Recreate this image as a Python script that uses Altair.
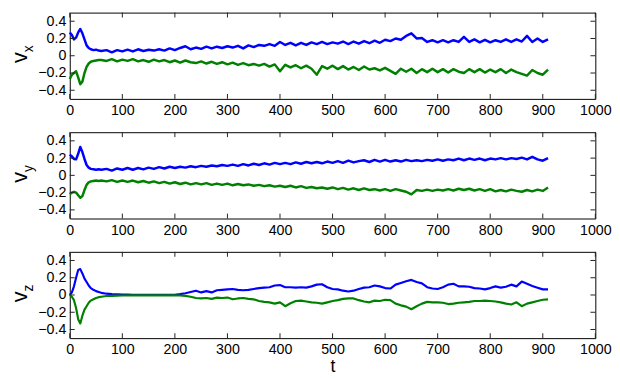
import altair as alt
import pandas as pd

FONT = "Liberation Sans"
W, H = 536, 88

# sample times
t = [0, 4, 8, 12, 16, 20, 24, 28, 32, 36, 40, 45, 50, 55, 60] + list(range(70, 911, 10))

# ---- panel 1 : v_x ----
vx_blue = [0.27, 0.24, 0.19, 0.21, 0.27, 0.31, 0.26, 0.19, 0.12, 0.09, 0.075, 0.065, 0.07, 0.06, 0.055,
           0.065, 0.04, 0.065, 0.05, 0.07, 0.05, 0.075, 0.055, 0.07, 0.06,
           0.075, 0.06, 0.085, 0.065, 0.09, 0.11, 0.075, 0.095, 0.08, 0.105,
           0.085, 0.105, 0.09, 0.11, 0.095, 0.115, 0.085, 0.12, 0.1, 0.125,
           0.115, 0.135, 0.115, 0.16, 0.125, 0.15, 0.12, 0.15, 0.125, 0.155,
           0.135, 0.16, 0.135, 0.155, 0.14, 0.165, 0.135, 0.165, 0.14, 0.17,
           0.145, 0.175, 0.15, 0.185, 0.17, 0.2, 0.185, 0.23, 0.26, 0.2,
           0.205, 0.16, 0.18, 0.155, 0.18, 0.155, 0.18, 0.16, 0.22, 0.16,
           0.19, 0.155, 0.185, 0.155, 0.18, 0.16, 0.19, 0.16, 0.19, 0.165,
           0.23, 0.16, 0.2, 0.16, 0.19]
vx_green = [-0.27, -0.22, -0.2, -0.18, -0.25, -0.33, -0.3, -0.2, -0.13, -0.09, -0.07, -0.06, -0.055, -0.05, -0.05,
            -0.06, -0.04, -0.065, -0.045, -0.06, -0.04, -0.065, -0.05, -0.07, -0.045,
            -0.065, -0.05, -0.075, -0.055, -0.08, -0.055, -0.075, -0.085, -0.065, -0.09,
            -0.07, -0.095, -0.075, -0.1, -0.08, -0.105, -0.085, -0.11, -0.095, -0.115,
            -0.095, -0.125, -0.1, -0.18, -0.105, -0.135, -0.11, -0.145, -0.115, -0.15,
            -0.22, -0.12, -0.15, -0.115, -0.155, -0.12, -0.16, -0.13, -0.165, -0.125,
            -0.16, -0.145, -0.17, -0.14, -0.175, -0.21, -0.15, -0.185, -0.15, -0.2,
            -0.155, -0.19, -0.15, -0.19, -0.155, -0.195, -0.155, -0.185, -0.2, -0.155,
            -0.19, -0.155, -0.195, -0.16, -0.19, -0.155, -0.2, -0.16, -0.19, -0.21,
            -0.23, -0.165, -0.2, -0.22, -0.16]

# ---- panel 2 : v_y ----
vy_blue = [0.24, 0.22, 0.19, 0.185, 0.25, 0.33, 0.27, 0.19, 0.12, 0.09, 0.075, 0.07, 0.065, 0.07, 0.065,
           0.075, 0.055, 0.08, 0.065, 0.085, 0.065, 0.085, 0.07, 0.09, 0.075,
           0.095, 0.08, 0.1, 0.085, 0.1, 0.09, 0.105, 0.095, 0.11, 0.1,
           0.115, 0.105, 0.12, 0.11, 0.125, 0.11, 0.13, 0.115, 0.135, 0.12,
           0.14, 0.125, 0.145, 0.13, 0.145, 0.13, 0.15, 0.135, 0.155, 0.14,
           0.155, 0.14, 0.16, 0.145, 0.165, 0.145, 0.17, 0.15, 0.165, 0.175,
           0.155, 0.18, 0.16, 0.18, 0.16, 0.175, 0.16, 0.18, 0.165, 0.175,
           0.165, 0.18, 0.17, 0.185, 0.17, 0.185, 0.175, 0.195, 0.175, 0.195,
           0.18, 0.195, 0.175, 0.195, 0.185, 0.2, 0.185, 0.2, 0.19, 0.205,
           0.185, 0.215, 0.185, 0.17, 0.2]
vy_green = [-0.22, -0.2, -0.19, -0.2, -0.23, -0.26, -0.24, -0.17, -0.11, -0.08, -0.07, -0.065, -0.06, -0.065, -0.06,
            -0.07, -0.055, -0.075, -0.06, -0.075, -0.06, -0.08, -0.065, -0.085, -0.07,
            -0.09, -0.075, -0.095, -0.08, -0.1, -0.085, -0.105, -0.09, -0.105, -0.09,
            -0.11, -0.095, -0.11, -0.095, -0.115, -0.1, -0.115, -0.105, -0.12, -0.11,
            -0.125, -0.115, -0.13, -0.12, -0.135, -0.12, -0.14, -0.125, -0.145, -0.135,
            -0.15, -0.14, -0.155, -0.14, -0.16, -0.145, -0.165, -0.15, -0.17, -0.15,
            -0.17, -0.16, -0.175, -0.16, -0.18, -0.16, -0.175, -0.19, -0.22, -0.17,
            -0.18, -0.165, -0.18, -0.165, -0.175, -0.16, -0.175, -0.155, -0.17, -0.155,
            -0.175, -0.16, -0.18, -0.16, -0.185, -0.17, -0.185, -0.165, -0.18, -0.19,
            -0.17, -0.185, -0.165, -0.18, -0.14]

# ---- panel 3 : v_z ----
vz_blue = [0.0, 0.03, 0.1, 0.2, 0.29, 0.3, 0.25, 0.19, 0.15, 0.11, 0.08, 0.06, 0.045, 0.035, 0.025,
           0.015, 0.01, 0.008, 0.005, 0.004, 0.003, 0.003, 0.002, 0.002, 0.002,
           0.002, 0.002, 0.003, 0.003, 0.01, 0.02, 0.035, 0.05, 0.03, 0.045,
           0.03, 0.055, 0.06, 0.065, 0.07, 0.06, 0.055, 0.06, 0.07, 0.08,
           0.085, 0.09, 0.11, 0.115, 0.09, 0.09, 0.085, 0.09, 0.085, 0.1,
           0.12, 0.125, 0.09, 0.07, 0.065, 0.05, 0.04, 0.05, 0.07, 0.085,
           0.09, 0.11, 0.1, 0.08, 0.075, 0.12, 0.14, 0.16, 0.175, 0.15,
           0.135, 0.09, 0.075, 0.07, 0.09, 0.12, 0.13, 0.1, 0.1, 0.095,
           0.08, 0.075, 0.065, 0.08, 0.1, 0.085, 0.095, 0.12, 0.1, 0.155,
           0.13, 0.105, 0.085, 0.065, 0.065]
vz_green = [0.0, -0.02, -0.06, -0.15, -0.28, -0.33, -0.24, -0.17, -0.13, -0.09, -0.065, -0.05, -0.035, -0.025, -0.02,
            -0.012, -0.01, -0.008, -0.006, -0.005, -0.005, -0.004, -0.004, -0.004, -0.004,
            -0.004, -0.004, -0.004, -0.004, -0.006, -0.01, -0.02, -0.035, -0.04, -0.035,
            -0.045, -0.03, -0.035, -0.03, -0.05, -0.04, -0.035, -0.045, -0.05, -0.07,
            -0.08, -0.085, -0.1, -0.085, -0.13, -0.095, -0.07, -0.065, -0.075, -0.085,
            -0.09, -0.1, -0.085, -0.07, -0.06, -0.045, -0.04, -0.04, -0.06, -0.075,
            -0.085, -0.065, -0.07, -0.055, -0.06, -0.1, -0.12, -0.135, -0.165, -0.13,
            -0.1, -0.08, -0.085, -0.085, -0.09, -0.105, -0.1, -0.09, -0.085, -0.08,
            -0.07, -0.07, -0.065, -0.07, -0.075, -0.085, -0.1, -0.11, -0.085, -0.13,
            -0.1, -0.085, -0.07, -0.055, -0.05]

xticks = [0, 100, 200, 300, 400, 500, 600, 700, 800, 900, 1000]
yticks = [-0.4, -0.2, 0, 0.2, 0.4]
subscripts = ["x", "y", "z"]

for s in (vx_blue, vx_green, vy_blue, vy_green, vz_blue, vz_green):
    assert len(s) == len(t), len(s)

xs = alt.Scale(domain=[0, 1000], nice=False, zero=False)
ys = alt.Scale(domain=[-0.5, 0.5], nice=False, zero=False)


def panel(blue, green, sub, last, lw):
    df = pd.DataFrame({"t": t + t, "v": blue + green,
                       "s": ["a"] * len(t) + ["b"] * len(t)})
    xaxis = alt.Axis(values=xticks, ticks=False, tickSize=0, domain=False, grid=False,
                     labelFlush=False, labelPadding=5, format="d",
                     title="t" if last else None, titlePadding=2)
    yaxis = alt.Axis(values=yticks, ticks=False, tickSize=0, domain=False, grid=False,
                     labelPadding=4, format="~g", title=None)
    X = alt.X("t:Q", scale=xs, axis=xaxis)
    Y = alt.Y("v:Q", scale=ys, axis=yaxis)

    lines = alt.Chart(df).mark_line(strokeWidth=lw, strokeJoin="round").encode(
        x=X, y=Y,
        color=alt.Color("s:N", scale=alt.Scale(domain=["a", "b"], range=["#0000ff", "#008000"]),
                        legend=None),
    )
    xt = pd.DataFrame({"t": xticks})
    yt = pd.DataFrame({"v": yticks})
    tick_style = dict(color="#222222", strokeWidth=1)
    bot = alt.Chart(xt).mark_rule(**tick_style).encode(x=X, y=alt.value(H), y2=alt.value(H - 5))
    top = alt.Chart(xt).mark_rule(**tick_style).encode(x=X, y=alt.value(0), y2=alt.value(5))
    lft = alt.Chart(yt).mark_rule(**tick_style).encode(y=Y, x=alt.value(0), x2=alt.value(5))
    rgt = alt.Chart(yt).mark_rule(**tick_style).encode(y=Y, x=alt.value(W), x2=alt.value(W - 5))

    lab = pd.DataFrame({"main": ["v"], "sub": [sub]})
    vtxt = alt.Chart(lab).mark_text(angle=270, fontSize=22, font=FONT, color="black",
                                    baseline="alphabetic", align="center").encode(
        text="main:N", x=alt.value(-44), y=alt.value(H / 2 + 2))
    stxt = alt.Chart(lab).mark_text(angle=270, fontSize=14, font=FONT, color="black",
                                    baseline="alphabetic", align="center").encode(
        text="sub:N", x=alt.value(-37), y=alt.value(H / 2 - 7))

    return alt.layer(lines, bot, top, lft, rgt, vtxt, stxt).properties(width=W, height=H)


p1 = panel(vx_blue, vx_green, subscripts[0], False, 2.5)
p2 = panel(vy_blue, vy_green, subscripts[1], False, 2.5)
p3 = panel(vz_blue, vz_green, subscripts[2], True, 2.2)

chart = alt.vconcat(p1, p2, p3, spacing=34, bounds="flush").properties(
    padding=0
).configure_view(
    stroke="black", strokeWidth=1
).configure_axis(
    labelFont=FONT, labelFontSize=14.5, labelColor="black",
    titleFont=FONT, titleFontSize=18, titleColor="black", titleFontWeight="normal"
)

chart.save("out.html", embed_options={"renderer": "svg", "actions": False})
